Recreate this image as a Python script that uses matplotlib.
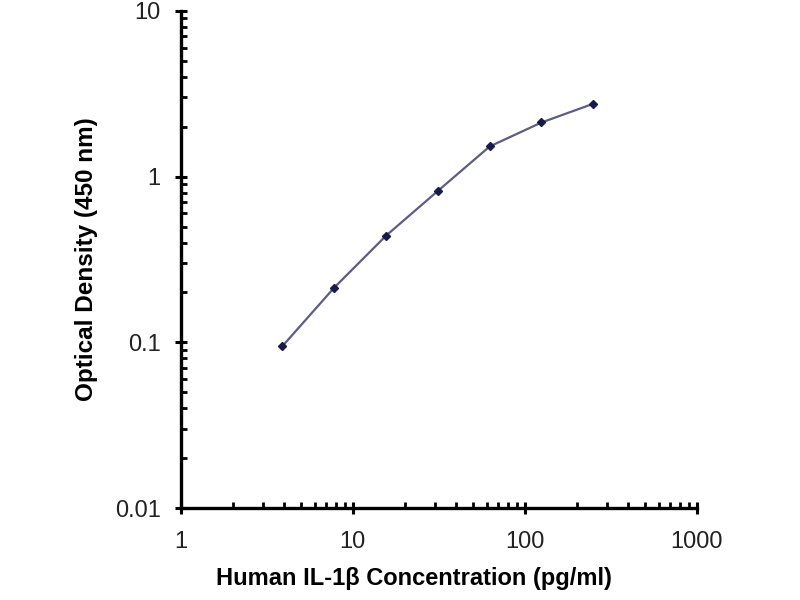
import matplotlib.pyplot as plt
from matplotlib.ticker import LogLocator, FixedLocator, FixedFormatter, NullFormatter

plt.rcParams['font.family'] = ['Liberation Sans', 'DejaVu Sans']

# standard curve data
concentration = [3.9, 7.8, 15.6, 31.25, 62.5, 125, 250]
optical_density = [0.095, 0.214, 0.44, 0.82, 1.52, 2.12, 2.75]

x_ticks = [1, 10, 100, 1000]
x_labels = ['1', '10', '100', '1000']
y_ticks = [0.01, 0.1, 1, 10]
y_labels = ['0.01', '0.1', '1', '10']

fig = plt.figure(figsize=(8, 6), dpi=100)
ax = fig.add_axes([0.226, 0.153, 0.645, 0.829])

ax.plot(concentration, optical_density, color='#5c5c86', linewidth=1.6,
        marker='D', markersize=4, markerfacecolor='#1a1a4a', markeredgecolor='#1a1a4a')

ax.set_xscale('log')
ax.set_yscale('log')
ax.set_xlim(1, 1000)
ax.set_ylim(0.01, 10)

ax.xaxis.set_major_locator(FixedLocator(x_ticks))
ax.xaxis.set_major_formatter(FixedFormatter(x_labels))
ax.yaxis.set_major_locator(FixedLocator(y_ticks))
ax.yaxis.set_major_formatter(FixedFormatter(y_labels))
ax.xaxis.set_minor_locator(LogLocator(base=10, subs=range(2, 10), numticks=20))
ax.yaxis.set_minor_locator(LogLocator(base=10, subs=range(2, 10), numticks=20))
ax.xaxis.set_minor_formatter(NullFormatter())
ax.yaxis.set_minor_formatter(NullFormatter())

for side in ['top', 'right']:
    ax.spines[side].set_visible(False)
for side in ['left', 'bottom']:
    ax.spines[side].set_linewidth(2.4)

ax.tick_params(which='major', direction='inout', length=9, width=2.2, labelsize=17,
               labelcolor='#222222')
ax.tick_params(axis='x', which='major', pad=12)
ax.tick_params(axis='y', which='major', pad=10)
ax.tick_params(which='minor', direction='in', length=4, width=2)

ax.set_xlabel('Human IL-1β Concentration (pg/ml)', fontsize=17, fontweight='bold', labelpad=10)
ax.xaxis.label.set_x(0.452)  # label sits a bit left of centre in the original
ax.set_ylabel('Optical Density (450 nm)', fontsize=17.5, fontweight='bold', labelpad=12)

fig.savefig('out.png', dpi=100)
